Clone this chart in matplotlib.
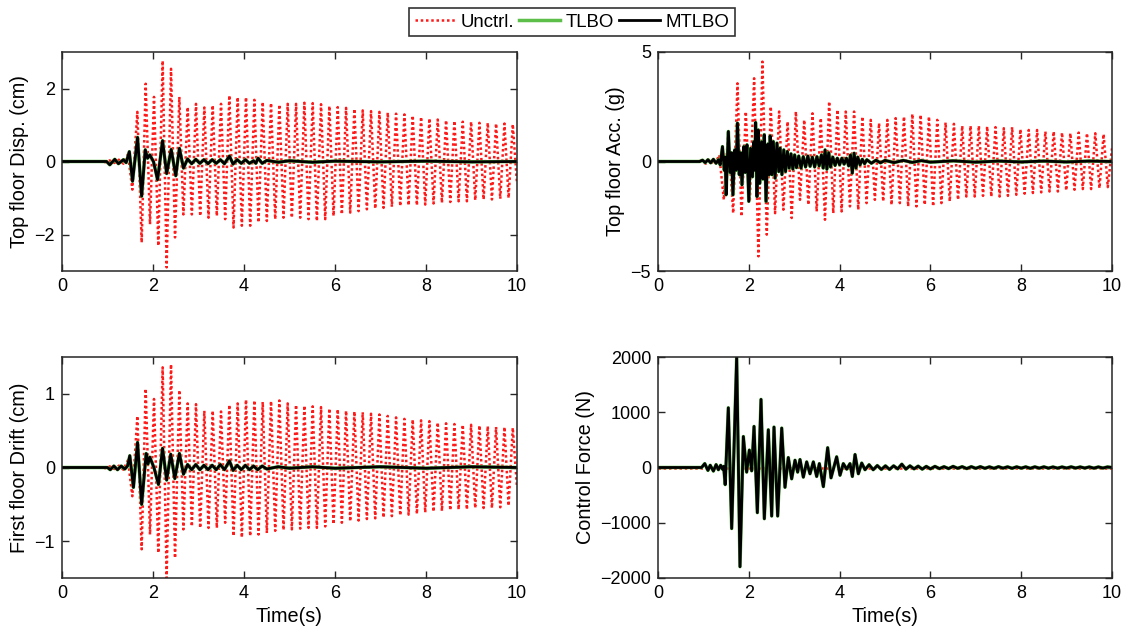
import numpy as np
import matplotlib
matplotlib.use("Agg")
import matplotlib.pyplot as plt

plt.rcParams['font.family'] = ['Liberation Sans', 'DejaVu Sans']

# ---------------------------------------------------------------
# uncontrolled response, extrema (shared times)
# ---------------------------------------------------------------
t_unc = [0.0, 0.90, 0.95, 1.05, 1.15, 1.25, 1.35, 1.45, 1.546, 1.656, 1.751,
         1.839, 1.934, 2.022, 2.117, 2.212, 2.300, 2.396, 2.484, 2.579, 2.668,
         2.762, 2.854, 2.945, 3.037, 3.128, 3.220, 3.312, 3.403, 3.495, 3.586,
         3.678, 3.770, 3.861, 3.953, 4.044, 4.136, 4.228, 4.319, 4.411, 4.502,
         4.594, 4.686, 4.777, 4.869, 4.960, 5.052, 5.144, 5.235, 5.327, 5.418,
         5.510, 5.602, 5.693, 5.785, 5.876, 5.968, 6.060, 6.151, 6.243, 6.334,
         6.426, 6.518, 6.609, 6.701, 6.792, 6.884, 6.976, 7.067, 7.159, 7.250,
         7.342, 7.434, 7.525, 7.617, 7.708, 7.800, 7.892, 7.983, 8.075, 8.166,
         8.258, 8.350, 8.441, 8.533, 8.624, 8.716, 8.808, 8.899, 8.991, 9.082,
         9.174, 9.266, 9.357, 9.449, 9.540, 9.632, 9.724, 9.815, 9.907, 10.0]

disp_unc = [0, 0, -0.02, 0.03, -0.04, 0.05, -0.06, 0.20, -0.77, 1.36, -2.22,
            2.13, -1.72, 1.77, -2.31, 2.76, -2.90, 2.54, -2.08, 1.77, -1.45,
            1.49, -1.45, 1.58, -1.49, 1.48, -1.54, 1.54, -1.49, 1.58, -1.58,
            1.81, -1.81, 1.76, -1.76, 1.76, -1.76, 1.69, -1.67, 1.63, -1.63,
            1.60, -1.58, 1.56, -1.54, 1.58, -1.54, 1.58, -1.54, 1.61, -1.58,
            1.60, -1.63, 1.57, -1.58, 1.52, -1.49, 1.49, -1.45, 1.47, -1.40,
            1.44, -1.36, 1.40, -1.31, 1.38, -1.29, 1.36, -1.27, 1.34, -1.24,
            1.31, -1.22, 1.29, -1.20, 1.26, -1.20, 1.22, -1.18, 1.18, -1.15,
            1.15, -1.13, 1.13, -1.11, 1.11, -1.09, 1.09, -1.09, 1.09, -1.06,
            1.06, -1.04, 1.06, -1.04, 1.04, -1.02, 1.04, -1.00, 1.02, -0.60]

drift_unc = [0, 0, -0.01, 0.015, -0.02, 0.025, -0.03, 0.10, -0.39, 0.70, -1.11,
             1.07, -0.91, 0.93, -1.16, 1.36, -1.50, 1.40, -1.23, 1.05, -0.84,
             0.87, -0.80, 0.86, -0.82, 0.77, -0.82, 0.77, -0.82, 0.76, -0.75,
             0.85, -0.93, 0.87, -0.95, 0.92, -0.93, 0.91, -0.91, 0.89, -0.89,
             0.90, -0.86, 0.91, -0.85, 0.87, -0.84, 0.85, -0.83, 0.84, -0.82,
             0.83, -0.82, 0.82, -0.80, 0.80, -0.77, 0.79, -0.75, 0.77, -0.73,
             0.76, -0.72, 0.75, -0.70, 0.73, -0.69, 0.72, -0.68, 0.70, -0.66,
             0.68, -0.65, 0.66, -0.64, 0.65, -0.63, 0.64, -0.61, 0.63, -0.60,
             0.61, -0.59, 0.60, -0.58, 0.59, -0.57, 0.58, -0.57, 0.58, -0.55,
             0.57, -0.55, 0.56, -0.55, 0.55, -0.54, 0.55, -0.52, 0.54, -0.27]

acc_unc = [0, 0, 0.05, -0.10, 0.10, -0.15, 0.30, -1.75, 1.30, -2.36, 3.57,
           -2.51, 2.28, -1.82, 3.80, -4.33, 4.56, -3.34, 2.51, -2.36, 2.28,
           -2.20, 1.82, -2.58, 2.28, -1.75, 1.90, -1.98, 2.20, -2.28, 1.98,
           -2.66, 2.74, -2.36, 2.36, -2.28, 2.28, -2.05, 2.28, -2.20, 2.05,
           -1.90, 1.90, -1.75, 1.75, -1.82, 1.90, -1.98, 1.98, -1.90, 2.05,
           -2.05, 2.17, -2.05, 2.13, -1.98, 2.05, -2.05, 1.90, -1.90, 1.78,
           -1.82, 1.72, -1.75, 1.63, -1.60, 1.63, -1.60, 1.63, -1.57, 1.60,
           -1.60, 1.57, -1.60, 1.52, -1.57, 1.57, -1.52, 1.47, -1.47, 1.44,
           -1.44, 1.44, -1.41, 1.37, -1.37, 1.37, -1.37, 1.32, -1.32, 1.29,
           -1.29, 1.32, -1.26, 1.29, -1.26, 1.29, -1.22, 1.25, -1.17, 0.60]

# ---------------------------------------------------------------
# controlled (MTLBO ~ TLBO) responses
# ---------------------------------------------------------------
t_disp_c = [0, 0.98, 1.05, 1.16, 1.24, 1.35, 1.41, 1.48, 1.55, 1.66, 1.75,
            1.83, 1.88, 1.93, 2.01, 2.10, 2.21, 2.30, 2.40, 2.50, 2.58, 2.67,
            2.76, 2.85, 2.94, 3.03, 3.12, 3.21, 3.30, 3.39, 3.48, 3.57, 3.68,
            3.76, 3.85, 3.94, 4.03, 4.12, 4.21, 4.26, 4.31, 4.40, 4.50, 4.75,
            5.0, 5.5, 6.0, 7.0, 8.0, 9.0, 10.0]
disp_c = [0, 0, -0.09, 0.06, -0.06, 0.05, -0.03, 0.27, -0.54, 0.66, -0.95,
          0.32, 0.09, 0.18, 0.0, -0.50, 0.57, -0.33, 0.33, -0.39, 0.36, -0.18,
          0.07, -0.06, 0.06, -0.05, 0.05, -0.06, 0.05, -0.05, 0.05, -0.06, 0.15,
          -0.07, 0.05, -0.05, 0.05, -0.05, 0.02, -0.05, 0.09, -0.05, 0.03, -0.02,
          0.02, -0.02, 0.01, -0.01, 0.01, -0.01, 0]

t_drift_c = [0, 1.0, 1.06, 1.14, 1.22, 1.30, 1.38, 1.44, 1.49, 1.57, 1.66,
             1.75, 1.85, 1.89, 1.93, 2.02, 2.12, 2.21, 2.30, 2.39, 2.48, 2.58,
             2.67, 2.76, 2.85, 2.94, 3.03, 3.12, 3.21, 3.30, 3.39, 3.48, 3.57,
             3.68, 3.76, 3.85, 3.94, 4.03, 4.12, 4.21, 4.30, 4.40, 4.50, 4.75,
             5.0, 5.5, 6.0, 7.0, 8.0, 9.0, 10.0]
drift_c = [0, 0, -0.03, 0.02, -0.03, 0.02, -0.02, 0.02, 0.16, -0.27, 0.34,
           -0.50, 0.19, 0.05, 0.14, 0.0, -0.23, 0.26, -0.17, 0.18, -0.15, 0.19,
           -0.09, 0.04, -0.03, 0.04, -0.03, 0.03, -0.03, 0.03, -0.03, 0.04, -0.03,
           0.09, -0.04, 0.03, -0.03, 0.03, -0.03, 0.02, -0.03, 0.02, -0.02, 0.01,
           -0.01, 0.01, -0.01, 0.01, -0.01, 0.01, 0]

t_acc_c = [0, 0.92, 0.98, 1.04, 1.10, 1.16, 1.22, 1.28, 1.33, 1.37, 1.42,
           1.46, 1.48, 1.50, 1.55, 1.59, 1.62, 1.65, 1.69, 1.72, 1.75, 1.79,
           1.82, 1.85, 1.89, 1.92, 1.96, 2.00, 2.04, 2.08, 2.11, 2.13, 2.15,
           2.18, 2.21, 2.24, 2.28, 2.31, 2.34, 2.38, 2.42, 2.45, 2.47, 2.51,
           2.54, 2.58, 2.62, 2.66, 2.69, 2.73, 2.77, 2.81, 2.85, 2.89, 2.93,
           2.97, 3.01, 3.05, 3.10, 3.15, 3.20, 3.25, 3.30, 3.35, 3.40, 3.45,
           3.50, 3.55, 3.60, 3.64, 3.68, 3.72, 3.76, 3.80, 3.85, 3.90, 3.95,
           4.00, 4.05, 4.10, 4.15, 4.20, 4.24, 4.28, 4.32, 4.36, 4.40, 4.45,
           4.50, 4.55, 4.60, 4.70, 4.80, 4.90, 5.0, 5.2, 5.4, 5.6, 5.8, 6.0,
           6.5, 7.0, 7.5, 8.0, 8.5, 9.0, 9.5, 10.0]
acc_c = [0, 0, 0.06, -0.05, 0.08, -0.06, 0.10, -0.08, 0.08, -0.15, 0.68,
         -0.40, 0.20, -1.52, 1.37, -0.50, 0.40, -1.52, 0.53, -0.40, 1.75, -0.60,
         0.40, -1.06, 0.68, -0.50, 0.76, -1.82, 0.60, -0.70, 0.90, -0.40, 1.78,
         -1.60, 1.44, -1.00, 0.90, -0.80, 1.22, -1.82, 0.80, -0.60, 1.17, -0.60,
         0.91, -0.76, 0.84, -0.46, 0.61, -0.60, 0.53, -0.46, 0.46, -0.30, 0.35,
         -0.35, 0.30, -0.28, 0.25, -0.30, 0.22, -0.25, 0.25, -0.22, 0.20, -0.25,
         0.22, -0.20, 0.30, -0.30, 0.53, -0.35, 0.40, -0.25, 0.20, -0.18, 0.15,
         -0.15, 0.15, -0.12, 0.15, -0.20, 0.30, -0.53, 0.38, -0.30, 0.20, -0.15,
         0.10, -0.10, 0.08, -0.08, 0.06, -0.06, 0.05, -0.05, 0.05, -0.04, 0.04, -0.03,
         0.03, -0.03, 0.02, -0.02, 0.02, -0.02, 0.02, 0]

t_force = [0, 0.96, 1.03, 1.10, 1.15, 1.22, 1.28, 1.33, 1.38, 1.42, 1.445,
           1.48, 1.549, 1.623, 1.733, 1.806, 1.880, 1.953, 2.012, 2.063, 2.115,
           2.188, 2.269, 2.342, 2.430, 2.504, 2.555, 2.636, 2.725, 2.797, 2.870,
           2.944, 3.018, 3.076, 3.128, 3.201, 3.275, 3.348, 3.422, 3.495, 3.554,
           3.642, 3.737, 3.811, 3.935, 4.009, 4.082, 4.156, 4.229, 4.281, 4.340,
           4.413, 4.487, 4.560, 4.65, 4.74, 4.83, 4.92, 5.01, 5.10, 5.19,
           5.28, 5.37, 5.46, 5.55, 5.64, 5.73, 5.82, 5.91, 6.0, 6.1,
           6.2, 6.3, 6.4, 6.5, 6.6, 6.7, 6.8, 6.9, 7.0, 7.1,
           7.2, 7.3, 7.4, 7.5, 7.6, 7.7, 7.8, 7.9, 8.0, 8.1,
           8.2, 8.3, 8.4, 8.5, 8.6, 8.7, 8.8, 8.9, 9.0, 9.1,
           9.2, 9.3, 9.4, 9.5, 9.6, 9.7, 9.8, 9.9, 10.0]
force_c = [0, 0, 70, -52, 40, -64, 52, -40, 40, -30, 20,
           -309, 1080, -1104, 2000, -1795, 560, -83, 315, -60, 743,
           -817, 1232, -927, 682, -878, 731, -878, 713, -358, 180,
           -205, 131, -83, 144, -174, 101, -113, 101, -162, 70,
           -346, 358, -187, 193, -140, 70, -30, 70, -162, 235,
           -113, 80, -40, 50, -40, 35, -35, 30, -35, 30,
           -25, 60, -30, 30, -25, 25, -30, 20, -25, 20,
           -20, 15, -20, 20, -15, 15, -20, 15, -15, 15,
           -15, 12, -15, 15, -12, 12, -15, 12, -12, 12,
           -15, 12, -12, 12, -12, 10, -12, 10, -10, 12,
           -10, 10, -10, 10, -12, 10, -10, 10, 0]

# ---------------------------------------------------------------
fig = plt.figure(figsize=(11.28, 6.39), dpi=100)

W, H = 1128.0, 639.0
def box(l, t, r, b):
    return [l / W, 1 - b / H, (r - l) / W, (b - t) / H]

ax1 = fig.add_axes(box(62, 52, 517, 271))
ax2 = fig.add_axes(box(658, 52, 1112, 271))
ax3 = fig.add_axes(box(62, 357, 517, 578))
ax4 = fig.add_axes(box(658, 357, 1112, 578))

red = '#ff1a1a'
green = '#5dbf4a'

panels = [
    (ax1, t_unc, disp_unc, t_disp_c, disp_c, (-3, 3), [-2, 0, 2], "Top floor Disp. (cm)"),
    (ax2, t_unc, acc_unc, t_acc_c, acc_c, (-5, 5), [-5, 0, 5], "Top floor Acc. (g)"),
    (ax3, t_unc, drift_unc, t_drift_c, drift_c, (-1.5, 1.5), [-1, 0, 1], "First floor Drift (cm)"),
    (ax4, [0, 10], [0, 0], t_force, force_c, (-2000, 2000), [-2000, -1000, 0, 1000, 2000], "Control Force (N)"),
]

for ax, tu, yu, tc, yc, lim, ticks, lab in panels:
    ax.plot(tu, yu, linestyle=(0, (1, 1.1)), color=red, lw=1.8, label="Unctrl.")
    ax.plot(tc, yc, '-', color=green, lw=2.5, label="TLBO")
    ax.plot(tc, yc, '-', color='black', lw=2.0, label="MTLBO")
    ax.set_xlim(0, 10)
    ax.set_ylim(*lim)
    ax.set_yticks(ticks)
    ax.set_xticks([0, 2, 4, 6, 8, 10])
    ax.set_ylabel(lab, fontsize=14.3)
    ax.tick_params(direction='in', top=True, right=True, length=5, width=1,
                   labelsize=13, pad=5, colors='#262626', labelcolor='black')
    for s in ax.spines.values():
        s.set_linewidth(1.1)
        s.set_color('#262626')

ax3.set_xlabel("Time(s)", fontsize=14.3)
ax4.set_xlabel("Time(s)", fontsize=14.3)

h, l = ax1.get_legend_handles_labels()
leg = fig.legend(h, l, loc='center', bbox_to_anchor=(0.507, 0.965), ncol=3,
                 fontsize=13.4, frameon=True, fancybox=False, edgecolor='black',
                 handlelength=2.2, handletextpad=0.3, columnspacing=0.25,
                 borderpad=0.3)
leg.get_frame().set_linewidth(1.2)

fig.savefig("out.png", dpi=100)
